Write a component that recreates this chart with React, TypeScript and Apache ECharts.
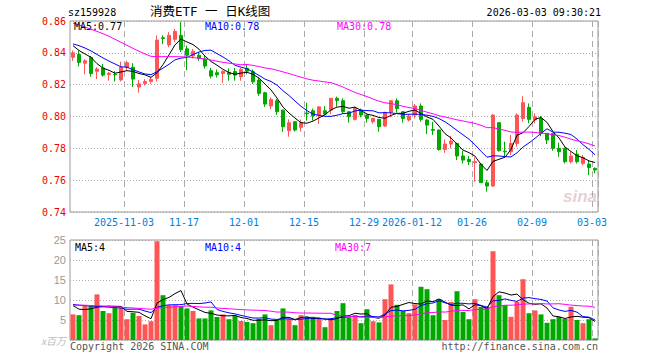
import React, { useEffect, useRef } from 'react';
import * as echarts from 'echarts';

const dates = [
  '2025-10-21','2025-10-22','2025-10-23','2025-10-24','2025-10-27','2025-10-28','2025-10-29','2025-10-30','2025-10-31',
  '2025-11-03','2025-11-04','2025-11-05','2025-11-06','2025-11-07','2025-11-10','2025-11-11','2025-11-12','2025-11-13','2025-11-14',
  '2025-11-17','2025-11-18','2025-11-19','2025-11-20','2025-11-21','2025-11-24','2025-11-25','2025-11-26','2025-11-27','2025-11-28',
  '2025-12-01','2025-12-02','2025-12-03','2025-12-04','2025-12-05','2025-12-08','2025-12-09','2025-12-10','2025-12-11','2025-12-12',
  '2025-12-15','2025-12-16','2025-12-17','2025-12-18','2025-12-19','2025-12-22','2025-12-23','2025-12-24','2025-12-25','2025-12-26',
  '2025-12-29','2025-12-30','2025-12-31','2026-01-05','2026-01-06','2026-01-07','2026-01-08','2026-01-09',
  '2026-01-12','2026-01-13','2026-01-14','2026-01-15','2026-01-16','2026-01-19','2026-01-20','2026-01-21','2026-01-22','2026-01-23',
  '2026-01-26','2026-01-27','2026-01-28','2026-01-29','2026-01-30','2026-02-02','2026-02-03','2026-02-04','2026-02-05','2026-02-06',
  '2026-02-09','2026-02-10','2026-02-11','2026-02-12','2026-02-13','2026-02-24','2026-02-25','2026-02-26','2026-02-27',
  '2026-03-02','2026-03-03',
];

const labelDates = ['2025-11-03','2025-11-17','2025-12-01','2025-12-15','2025-12-29','2026-01-12','2026-01-26','2026-02-09','2026-03-03'];
const labelTexts = ['2025-11-03','11-17','12-01','12-15','12-29','2026-01-12','01-26','02-09','03-03'];

const opens = [
  0.8372,0.839,0.8335,0.837,0.8284,0.8305,0.8263,0.8265,0.823,0.8307,
  0.831,0.8185,0.8208,0.822,0.824,0.8495,0.845,0.8485,0.851,0.8425,
  0.838,0.8385,0.836,0.8288,0.8275,0.827,0.8275,0.8282,0.825,0.8302,
  0.8281,0.8229,0.8149,0.8066,0.8099,0.804,0.7911,0.7967,0.7932,0.8022,
  0.8036,0.8009,0.8036,0.804,0.8114,0.8099,0.803,0.7982,0.804,0.8009,
  0.7967,0.7982,0.794,0.8028,0.8099,0.803,0.7978,0.8009,0.8066,0.7978,
  0.7918,0.7915,0.7793,0.7827,0.7831,0.7752,0.7731,0.771,0.7701,0.7584,
  0.7563,0.7961,0.7782,0.7779,0.7831,0.7988,0.8057,0.7978,0.7988,0.7894,
  0.7894,0.78,0.78,0.7716,0.7764,0.7705,0.7701,0.7674,
];
const closes = [
  0.840,0.834,0.835,0.827,0.8298,0.826,0.8272,0.8262,0.831,0.8338,
  0.8235,0.8205,0.822,0.8233,0.848,0.849,0.851,0.8535,0.842,0.8385,
  0.841,0.8365,0.8317,0.8254,0.8262,0.8283,0.8265,0.826,0.8296,0.8285,
  0.8218,0.8145,0.8078,0.8107,0.803,0.7936,0.7961,0.7915,0.7961,0.8017,
  0.8003,0.806,0.8015,0.8114,0.8101,0.803,0.7999,0.8051,0.8009,0.7988,
  0.7988,0.7936,0.8026,0.8099,0.805,0.7988,0.8003,0.8066,0.7982,0.7946,
  0.7913,0.7793,0.7827,0.7846,0.7752,0.7726,0.7716,0.7716,0.7584,0.7563,
  0.8009,0.7785,0.7778,0.7831,0.8009,0.8087,0.7982,0.7999,0.7894,0.7852,
  0.78,0.7779,0.7716,0.7752,0.7716,0.7743,0.768,0.7664,
];
const lows = [
  0.835,0.8315,0.8265,0.825,0.8235,0.825,0.8225,0.822,0.822,0.829,
  0.8185,0.815,0.8195,0.8205,0.822,0.8455,0.8435,0.847,0.8405,0.829,
  0.8365,0.835,0.830,0.824,0.8245,0.8212,0.8225,0.8225,0.8225,0.8265,
  0.8205,0.813,0.806,0.8045,0.801,0.7904,0.7873,0.7905,0.7905,0.7974,
  0.7975,0.7953,0.801,0.8015,0.8062,0.802,0.7962,0.7975,0.7995,0.7962,
  0.7955,0.7905,0.7935,0.7995,0.8024,0.7961,0.7968,0.7988,0.7967,0.789,
  0.7884,0.7785,0.7772,0.78,0.7726,0.7705,0.7695,0.759,0.7584,0.7528,
  0.7559,0.778,0.7752,0.7758,0.781,0.7967,0.7957,0.7957,0.7877,0.7827,
  0.7785,0.7747,0.7705,0.7705,0.7705,0.7695,0.7632,0.7643,
];
const highs = [
  0.8415,0.8415,0.836,0.838,0.831,0.833,0.828,0.8285,0.8345,0.835,
  0.8335,0.823,0.8235,0.825,0.851,0.851,0.853,0.855,0.8594,0.8445,
  0.8425,0.8405,0.838,0.8305,0.8295,0.829,0.8302,0.8305,0.8305,0.833,
  0.8295,0.8245,0.8155,0.812,0.811,0.8045,0.7982,0.7972,0.7982,0.8087,
  0.805,0.8065,0.8065,0.8114,0.8125,0.8114,0.8032,0.8062,0.805,0.8012,
  0.7992,0.7985,0.803,0.81,0.8114,0.8032,0.8015,0.8078,0.8082,0.7985,
  0.7967,0.7918,0.7856,0.7877,0.7835,0.7785,0.7752,0.7743,0.7705,0.76,
  0.8015,0.7965,0.7842,0.7884,0.802,0.8128,0.8082,0.802,0.8003,0.7895,
  0.7896,0.7835,0.7805,0.7779,0.7789,0.7758,0.7726,0.768,
];
// volume, in millions
const volumes = [
  6.4,6.2,8.5,8.5,11.4,7.25,6.7,8.3,8.3,5.2,
  6.8,6.0,3.9,4.7,24.7,11.2,8.7,8.7,8.5,7.9,
  7.25,5.4,5.4,7.4,5.75,6.4,5.2,6.0,4.75,4.5,
  4.2,5.3,6.4,3.7,5.0,7.9,5.3,3.7,6.2,5.8,
  5.8,5.3,3.2,5.2,7.25,9.2,5.6,6.2,4.2,7.7,
  4.7,4.4,10.2,13.9,8.8,7.25,6.7,8.9,13.3,12.7,
  6.2,10.2,5.0,9.5,12.2,7.0,5.2,10.2,8.3,8.3,
  22.2,11.2,8.7,5.8,9.5,15.2,6.7,7.4,6.4,4.3,
  5.2,5.75,5.3,8.3,5.0,4.2,5.2,0.4,
];

const ma5Early = [0.8445,0.8415,0.8393,0.8372];
const ma10Early = [0.8456,0.8445,0.843,0.8412,0.839,0.8368,0.8348,0.833,0.8312];
const ma30Early = [0.8587,0.8575,0.8562,0.8548,0.8535,0.852,0.8504,0.8485,0.8466,0.8447,0.8428,0.841,0.8393,0.8378,0.8376,0.8376,0.8376,0.8376,0.8375,0.8374,0.837,0.8366,0.8362,0.8355,0.8347,0.834,0.8335,0.833,0.8325];
const volMa5Early = [8.6,7.7,7.6,7.8];
const volMa10Early = [8.9,8.7,8.6,8.5,8.4,8.3,8.2,8.1,8.0];
const volMa30Early = [8.7,8.7,8.7,8.6,8.6,8.5,8.4,8.3,8.2,8.1,8.0,7.9,7.8,7.7,8.0,8.1,8.2,8.3,8.4,8.5,8.4,8.3,8.2,8.2,8.0,7.9,7.8,7.7,7.6];

const priceLegend = ['MA5:0.77','MA10:0.78','MA30:0.78'];
const volLegend = ['MA5:4','MA10:4','MA30:7'];

function movingAvg(values: number[], n: number, early: number[], digits: number) {
  return values.map((_, i) => {
    if (i < n - 1) return early[i];
    let s = 0;
    for (let k = i - n + 1; k <= i; k++) s += values[k];
    return +(s / n).toFixed(digits);
  });
}

const UP = '#ff5555';
const DOWN = '#00a800';
const MONO = "'DejaVu Sans Mono', monospace";
const CJK = "'DejaVu Sans Mono', 'Noto Sans CJK SC', sans-serif";

export default function App() {
  const ref = useRef<HTMLDivElement>(null);
  useEffect(() => {
    const chart = echarts.init(ref.current!, null, { renderer: 'svg' });
    const labelIdx = new Set(labelDates.map((d) => dates.indexOf(d)));
    const labelMap: Record<string, string> = {};
    labelDates.forEach((d, i) => (labelMap[d] = labelTexts[i]));
    const splitX = {
      show: true,
      interval: (i: number) => labelIdx.has(i),
      lineStyle: { color: '#aaaaaa', type: [6, 4], width: 1 },
    };
    const lineSeries = (name: string, data: number[], color: string, xi: number) => ({
      name,
      type: 'line',
      xAxisIndex: xi,
      yAxisIndex: xi,
      data,
      symbol: 'none',
      smooth: false,
      lineStyle: { width: 1, color },
      itemStyle: { color },
      z: 5,
    });
    const txt = (text: string, pos: any, fill: string, font: string) => ({
      type: 'text',
      ...pos,
      style: { text, fill, font },
      z: 100,
    });
    const option: any = {
      animation: false,
      backgroundColor: '#ffffff',
      grid: [
        { left: 70, top: 21, width: 528, height: 191, show: true, borderColor: '#999999', borderWidth: 1 },
        { left: 70, top: 240, width: 528, height: 100, show: true, borderColor: '#999999', borderWidth: 1 },
      ],
      xAxis: [
        {
          type: 'category', gridIndex: 0, data: dates, boundaryGap: true,
          axisLine: { show: false }, axisTick: { show: false },
          axisLabel: {
            interval: (i: number) => labelIdx.has(i),
            formatter: (v: string) => labelMap[v] ?? '',
            color: '#0080e0', fontFamily: MONO, fontSize: 10, margin: 5, padding: [0, 6, 0, 0],
          },
          splitLine: splitX,
        },
        {
          type: 'category', gridIndex: 1, data: dates, boundaryGap: true,
          axisLine: { show: false }, axisTick: { show: false }, axisLabel: { show: false },
          splitLine: splitX,
        },
      ],
      yAxis: [
        {
          type: 'value', gridIndex: 0, min: 0.74, max: 0.86, interval: 0.02,
          axisLine: { show: false }, axisTick: { show: false },
          axisLabel: { formatter: (v: number) => v.toFixed(2), color: '#ee0000', fontFamily: MONO, fontSize: 10, margin: 4 },
          splitLine: { show: true, lineStyle: { color: '#aaaaaa', type: [1, 2], width: 1 } },
        },
        {
          type: 'value', gridIndex: 1, min: 0, max: 25, interval: 5,
          axisLine: { show: false }, axisTick: { show: false },
          axisLabel: {
            formatter: (v: number) => (v === 0 ? '{u|x百万}' : String(v)),
            color: '#999999', fontFamily: "'Liberation Sans', sans-serif", fontSize: 11, margin: 4,
            rich: { u: { color: '#bbbbbb', fontStyle: 'italic', fontSize: 10, fontFamily: "'Noto Sans CJK SC', sans-serif" } },
          },
          splitLine: { show: true, lineStyle: { color: '#aaaaaa', type: [1, 2], width: 1 } },
        },
      ],
      series: [
        {
          type: 'candlestick', xAxisIndex: 0, yAxisIndex: 0,
          data: opens.map((o, i) => [o, closes[i], lows[i], highs[i]]),
          barWidth: 4,
          itemStyle: { color: UP, color0: DOWN, borderColor: UP, borderColor0: DOWN, borderWidth: 1 },
        },
        lineSeries('MA5', movingAvg(closes, 5, ma5Early, 4), '#000000', 0),
        lineSeries('MA10', movingAvg(closes, 10, ma10Early, 4), '#0000ff', 0),
        lineSeries('MA30', movingAvg(closes, 30, ma30Early, 4), '#ff00ff', 0),
        {
          type: 'bar', xAxisIndex: 1, yAxisIndex: 1, barWidth: 5,
          data: volumes.map((v, i) => ({ value: v, itemStyle: { color: closes[i] >= opens[i] ? UP : DOWN } })),
        },
        lineSeries('VMA5', movingAvg(volumes, 5, volMa5Early, 2), '#000000', 1),
        lineSeries('VMA10', movingAvg(volumes, 10, volMa10Early, 2), '#0000ff', 1),
        lineSeries('VMA30', movingAvg(volumes, 30, volMa30Early, 2), '#ff00ff', 1),
      ],
      graphic: [
        txt('sz159928', { left: 68, top: 7 }, '#000000', `10px ${MONO}`),
        txt('消费ETF 一 日K线图', { left: 150, top: 5 }, '#000000', `12.5px ${CJK}`),
        txt('2026-03-03 09:30:21', { right: 59, top: 7 }, '#000000', `10px ${MONO}`),
        txt(priceLegend[0], { left: 74, top: 21 }, '#000000', `10px ${MONO}`),
        txt(priceLegend[1], { left: 205, top: 21 }, '#0000ff', `10px ${MONO}`),
        txt(priceLegend[2], { left: 337, top: 21 }, '#ff00ff', `10px ${MONO}`),
        txt(volLegend[0], { left: 75, top: 242 }, '#000000', `10px ${MONO}`),
        txt(volLegend[1], { left: 205, top: 242 }, '#0000ff', `10px ${MONO}`),
        txt(volLegend[2], { left: 335, top: 242 }, '#ff00ff', `10px ${MONO}`),
        txt('Copyright 2026 SINA.COM', { left: 70, top: 341 }, '#555555', `10px ${MONO}`),
        txt('http://finance.sina.com.cn', { right: 62, top: 341 }, '#555555', `10px ${MONO}`),
        txt('sina', { left: 563, top: 188 }, 'rgba(200,150,150,0.45)', `italic bold 17px 'Liberation Sans', sans-serif`),
      ],
    };
    chart.setOption(option);
    return () => chart.dispose();
  }, []);
  return <div ref={ref} style={{ position: 'fixed', left: 0, top: 0, width: 660, height: 360 }} />;
}
